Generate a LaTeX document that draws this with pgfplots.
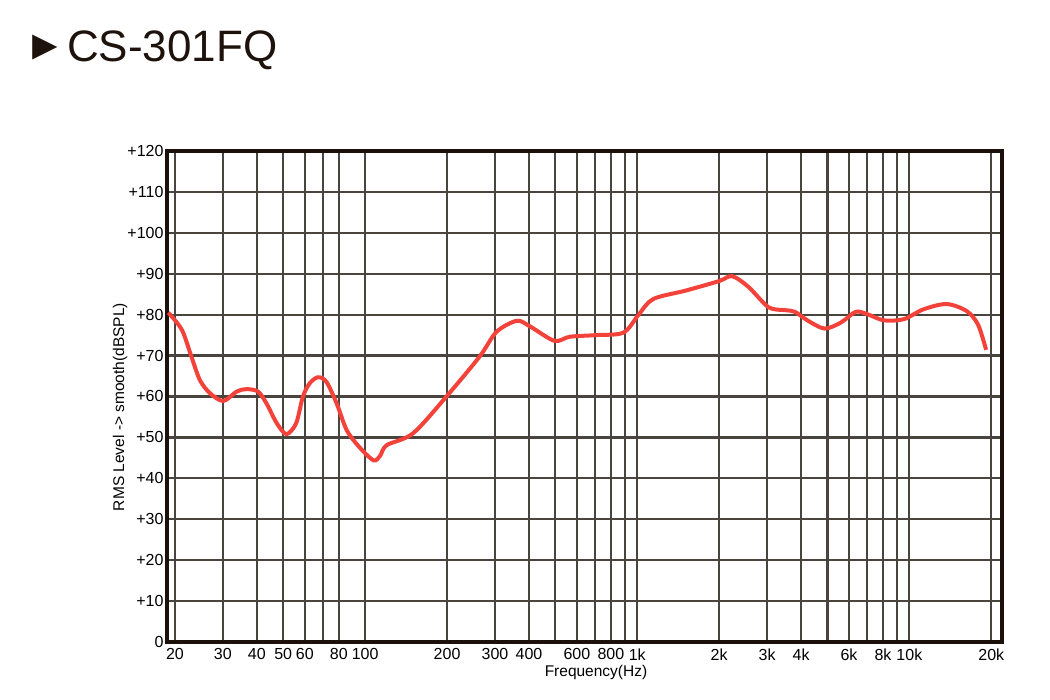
\documentclass[border=0pt]{standalone}
\usepackage{fontspec}
\setmainfont{Liberation Sans}
\usepackage{pgfplots}
\pgfplotsset{compat=1.18}
\definecolor{gridc}{RGB}{74,68,62}
\definecolor{framec}{RGB}{28,16,10}
\definecolor{curvec}{RGB}{243,66,58}
\definecolor{titlec}{RGB}{30,18,12}
\begin{document}
\begin{tikzpicture}[x=1pt,y=1pt]
\path[use as bounding box] (0,0) rectangle (1050,700);
\node[anchor=center,text=titlec,inner sep=0pt,font=\fontsize{42}{46}\selectfont] at (45,652.5) {►};
\node[anchor=base west,text=titlec,inner sep=0pt,font=\fontsize{44}{50}\selectfont] at (67,638.3) {CS-301FQ};
\begin{axis}[
  at={(167pt,58pt)}, anchor=south west,
  scale only axis, width=835pt, height=491pt,
  xmode=log, xmin=18.7, xmax=21900, ymin=0, ymax=120,
  xtick={20,30,40,50,60,70,80,100,200,300,400,500,600,700,800,900,1000,2000,3000,4000,5000,6000,7000,8000,9000,10000,20000},
  xticklabels={20,30,40,50,60,,80,100,200,300,400,,600,,800,,1k,2k,3k,4k,,6k,,8k,,10k,20k},
  ytick={0,10,20,30,40,50,60,70,80,90,100,110,120},
  yticklabels={0,+10,+20,+30,+40,+50,+60,+70,+80,+90,+100,+110,+120},
  minor xtick={}, minor ytick={},
  grid=major,
  major grid style={line width=2.2pt, draw=gridc},
  axis line style={line width=3.5pt, draw=framec},
  tick style={draw=none},
  major tick length=0pt,
  tick label style={font=\fontsize{16}{19}\selectfont, text=black},
  xticklabel style={yshift=-3pt},
  /pgf/number format/assume math mode=true,
  clip=false,
]
\addplot[curvec, line width=4pt, smooth, tension=0.5] coordinates {
(18.9,80.5) (21.2,76.3) (23.0,69.7) (24.7,64.0) (26.9,60.8) (30.1,58.9)
(33.7,61.2) (36.6,61.8) (40.4,61.2) (43.4,58.3) (47.3,53.5) (51.4,50.8)
(55.8,53.5) (59.0,59.9) (62.5,63.2) (67.1,64.7) (72.0,63.6) (78.6,58.3)
(85.5,51.8) (95.0,47.7) (107.3,44.4) (113.5,45.5) (120,48.1) (150,51.0)
(199,60.0) (263,69.7) (304,75.8) (361,78.5) (404,77.1)
(496,73.6) (565,74.6) (704,75.0) (889,75.6) (1009,79.9) (1143,83.8)
(1511,85.9) (1998,88.2) (2234,89.4) (2570,86.7) (3039,81.8) (3491,81.1)
(3795,80.7) (4244,78.5) (4880,76.6) (5612,78.1) (6355,80.7) (7015,80.1)
(8067,78.6) (9545,78.9) (11260,81.3) (13700,82.6) (16220,80.9) (17870,77.6)
(19150,71.4)
};
\end{axis}
\node[anchor=base,inner sep=0pt,font=\fontsize{15.5}{18}\selectfont] at (596,23) {Frequency(Hz)};
\node[anchor=center,rotate=90,inner sep=0pt,font=\fontsize{15.5}{18}\selectfont] at (120,293) {RMS Level -> smooth(dBSPL)};
\end{tikzpicture}
\end{document}
